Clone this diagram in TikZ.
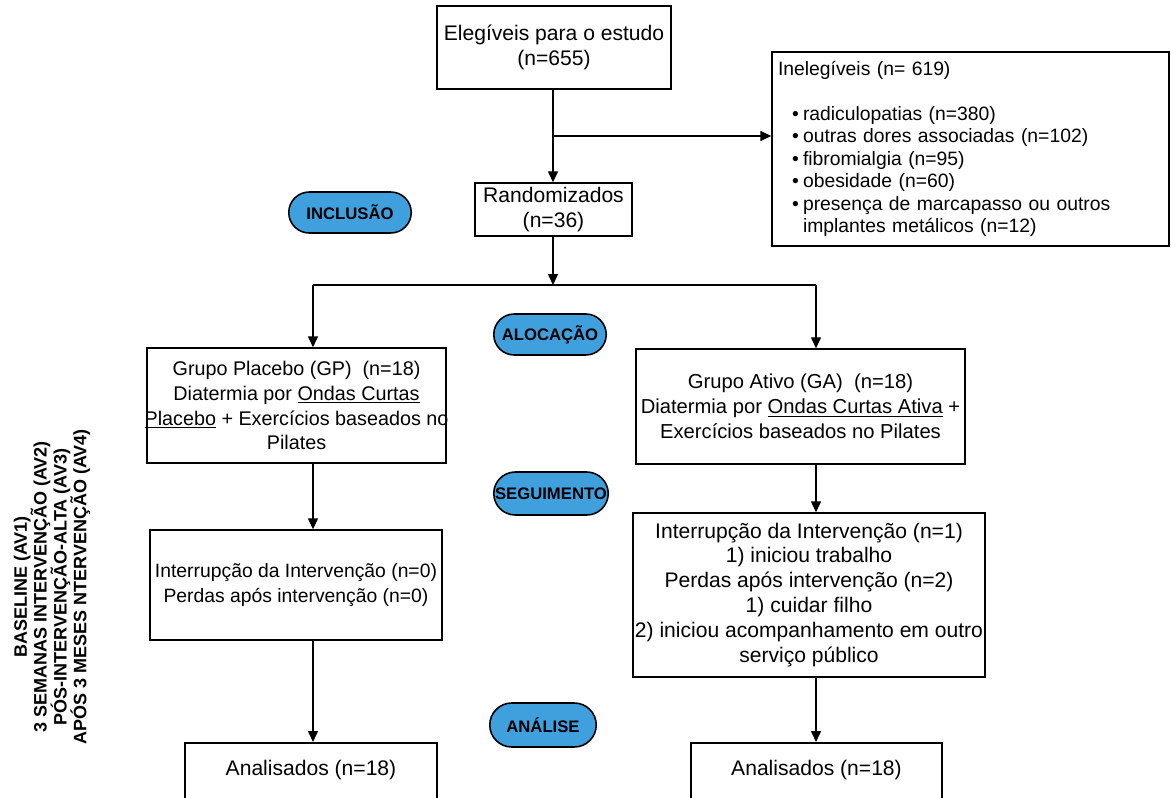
\documentclass[tikz,border=0pt]{standalone}
\usepackage{fontspec}
\setmainfont{Liberation Sans}
\usetikzlibrary{arrows.meta, shapes.misc}

\definecolor{pillblue}{RGB}{64,160,222}
\newcommand{\inelitem}{\hspace*{0.28cm}\makebox[0.22cm][l]{\textbullet}}

\begin{document}
\begin{tikzpicture}[x=0.02cm, y=-0.02cm,
    box/.style={draw, line width=0.85pt, fill=white, align=center, inner sep=1pt,
        font=\fontsize{12}{14.2}\selectfont},
    pill/.style={draw, line width=0.9pt, rounded rectangle, fill=pillblue, inner sep=1pt,
        font=\fontsize{9.5}{11}\selectfont\bfseries},
    arrow/.style={line width=0.85pt, -{Triangle[length=0.22cm, width=0.2cm]}},
    line/.style={line width=0.85pt}]
    \useasboundingbox (0,0) rectangle (1171,798);
    \clip (0,0) rectangle (1171,798);

    % Draw nodes
    \node[box, minimum width=4.68cm, minimum height=1.66cm] (eleg) at (554,47.5)
        {Elegíveis para o estudo\\(n=655)};
    \node[box, minimum width=3.14cm, minimum height=1.06cm] (rand) at (553.5,209.5)
        {Randomizados\\(n=36)};
    \node[box, align=left, text width=7.7cm, inner xsep=0.12cm, minimum height=3.88cm,
        font=\fontsize{11}{12.8}\selectfont] (inel) at (970.5,149)
        {Inelegíveis (n= 619)\\[12.8pt]
         \inelitem radiculopatias (n=380)\\
         \inelitem outras dores associadas (n=102)\\
         \inelitem fibromialgia (n=95)\\
         \inelitem obesidade (n=60)\\
         \inelitem presença de marcapasso ou outros\\
         \hspace*{0.5cm}implantes metálicos (n=12)};
    \node[box, minimum width=5.98cm, minimum height=2.3cm, inner xsep=-0.05cm,
        font=\fontsize{11.25}{14.2}\selectfont] (gp) at (296.5,405.5)
        {Grupo Placebo (GP)\ \ (n=18)\\
         Diatermia por \underline{Ondas Curtas}\\
         \underline{Placebo} + Exercícios baseados no\\
         Pilates};
    \node[box, minimum width=6.58cm, minimum height=2.3cm,
        font=\fontsize{11.5}{14.2}\selectfont] (ga) at (800.5,406.5)
        {Grupo Ativo (GA)\ \ (n=18)\\
         Diatermia por \underline{Ondas Curtas Ativa} +\\
         Exercícios baseados no Pilates};
    \node[box, minimum width=5.84cm, minimum height=2.2cm,
        font=\fontsize{11}{14}\selectfont] (intl) at (296,585)
        {Interrupção da Intervenção (n=0)\\
         Perdas após intervenção (n=0)};
    \node[box, minimum width=7.04cm, minimum height=3.28cm] (intr) at (809,595)
        {Interrupção da Intervenção (n=1)\\
         1) iniciou trabalho\\
         Perdas após intervenção (n=2)\\
         1) cuidar filho\\
         2) iniciou acompanhamento em outro\\
         serviço público};
    \node[box, anchor=north, minimum width=5.04cm, inner ysep=0.34cm, text depth=1.2cm] (anl) at (311,742)
        {Analisados (n=18)};
    \node[box, anchor=north, minimum width=5.02cm, inner ysep=0.34cm, text depth=1.2cm] (anr) at (816.5,742)
        {Analisados (n=18)};

    % Phase labels
    \node[pill, minimum width=2.52cm, minimum height=0.82cm] (incl) at (350,212.5) {INCLUSÃO};
    \node[pill, minimum width=2.32cm, minimum height=0.82cm] (aloc) at (550,334.5) {ALOCAÇÃO};
    \node[pill, minimum width=2.36cm, minimum height=0.86cm] (seg) at (551,493.5) {SEGUIMENTO};
    \node[pill, minimum width=2.2cm, minimum height=0.88cm] (anal) at (543,725) {ANÁLISE};

    % Assessment times
    \node[rotate=90, align=center, font=\fontsize{10.25}{11.3}\selectfont\bfseries] (aval) at (52,587)
        {BASELINE (AV1)\\
         3 SEMANAS INTERVENÇÃO (AV2)\\
         PÓS-INTERVENÇÃO-ALTA (AV3)\\
         APÓS 3 MESES NTERVENÇÃO (AV4)};

    % Draw connections
    \coordinate (split) at (553,136);
    \coordinate (bar) at (553,285);
    \coordinate (barL) at (313,285);
    \coordinate (barR) at (816,285);
    \draw[arrow] (eleg.south -| split) -- (rand.north -| split);
    \draw[arrow] (split) -- (split -| inel.west);
    \draw[arrow] (rand.south -| bar) -- (bar);
    \draw[line] (barL) -- (barR);
    \draw[arrow] (barL) -- (barL |- gp.north);
    \draw[arrow] (barR) -- (barR |- ga.north);
    \draw[arrow] (barL |- gp.south) -- (barL |- intl.north);
    \draw[arrow] (barR |- ga.south) -- (barR |- intr.north);
    \draw[arrow] (barL |- intl.south) -- (barL |- anl.north);
    \draw[arrow] (barR |- intr.south) -- (barR |- anr.north);
\end{tikzpicture}
\end{document}
